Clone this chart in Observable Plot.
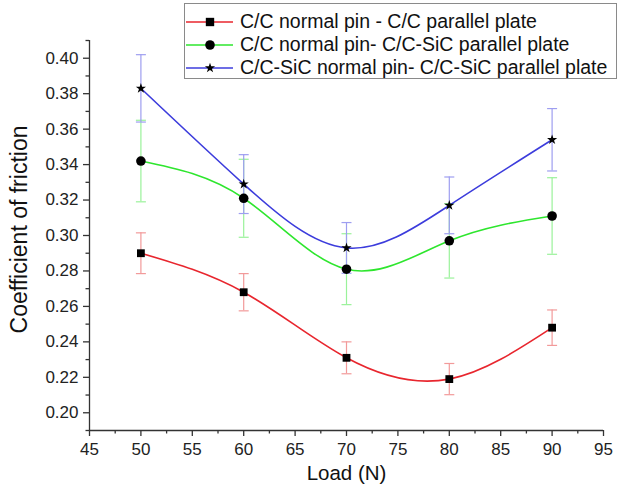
<!DOCTYPE html>
<html>
<head>
<meta charset="utf-8">
<script src="https://cdn.jsdelivr.net/npm/d3@7"></script>
<script src="https://cdn.jsdelivr.net/npm/@observablehq/plot@0.6"></script>
<style>
  html, body { margin: 0; padding: 0; background: #fff; }
  #wrap { position: relative; width: 618px; height: 494px; font-family: "Liberation Sans", Arial, sans-serif; }
  #legend { position: absolute; left: 184px; top: 3px; width: 431px; height: 74px; border: 1px solid #8a8a8a; background: #fff; box-sizing: content-box; }
  .row { position: absolute; left: 0; height: 23px; display: flex; align-items: center; font-size: 19.5px; color: #111; white-space: nowrap; }
  .row svg { margin-right: 5px; }
</style>
</head>
<body>
<div id="wrap"><div id="chart"></div><div id="legend"></div></div>
<script>
const loads = [50, 60, 70, 80, 90];
const seriesNames = [
  "C/C normal pin - C/C parallel plate",
  "C/C normal pin- C/C-SiC parallel plate",
  "C/C-SiC normal pin- C/C-SiC parallel plate"
];
const ccMean = [0.290, 0.268, 0.231, 0.219, 0.248];
const ccErr = [0.0115, 0.0105, 0.009, 0.0088, 0.010];
const ccSicMean = [0.342, 0.321, 0.281, 0.297, 0.311];
const ccSicErr = [0.023, 0.022, 0.020, 0.021, 0.0216];
const sicSicMean = [0.383, 0.329, 0.293, 0.317, 0.354];
const sicSicErr = [0.019, 0.0166, 0.0143, 0.016, 0.0176];
const xMajor = [45, 50, 55, 60, 65, 70, 75, 80, 85, 90, 95];
const xMinor = [47.5, 52.5, 57.5, 62.5, 67.5, 72.5, 77.5, 82.5, 87.5, 92.5];
const yMajor = [0.20, 0.22, 0.24, 0.26, 0.28, 0.30, 0.32, 0.34, 0.36, 0.38, 0.40];
const yMinor = [0.19, 0.21, 0.23, 0.25, 0.27, 0.29, 0.31, 0.33, 0.35, 0.37, 0.39, 0.41];

const lineColors = ["#e8262e", "#2ee62e", "#3c3cdc"];
const errColors = ["#f29a9a", "#9af29a", "#9e9ef0"];
const symbols = ["square", "circle", "star"];
const symbolR = [4.4, 4.8, 3.2];

const means = [ccMean, ccSicMean, sicSicMean];
const errs = [ccErr, ccSicErr, sicSicErr];
const data = [];
means.forEach((m, s) => loads.forEach((x, i) => data.push({
  s, name: seriesNames[s], x, y: m[i], lo: m[i] - errs[s][i], hi: m[i] + errs[s][i]
})));

const capSymbol = { draw(ctx) { ctx.moveTo(-5, 0); ctx.lineTo(5, 0); } };

const marks = [];
for (let s = 0; s < 3; s++) {
  const d = data.filter(r => r.s === s);
  marks.push(
    Plot.ruleX(d, {x: "x", y1: "lo", y2: "hi", stroke: errColors[s], strokeWidth: 1.2}),
    Plot.dot(d, {x: "x", y: "lo", symbol: capSymbol, stroke: errColors[s], strokeWidth: 1.2, fill: "none"}),
    Plot.dot(d, {x: "x", y: "hi", symbol: capSymbol, stroke: errColors[s], strokeWidth: 1.2, fill: "none"})
  );
}
for (let s = 0; s < 3; s++) {
  const d = data.filter(r => r.s === s);
  marks.push(
    Plot.line(d, {x: "x", y: "y", stroke: lineColors[s], strokeWidth: 1.6, curve: "natural"}),
    Plot.dot(d, {x: "x", y: "y", symbol: symbols[s], r: symbolR[s], fill: "#000", stroke: "none"})
  );
}

const chart = Plot.plot({
  width: 618,
  height: 494,
  marginLeft: 89,
  marginRight: 15,
  marginTop: 40,
  marginBottom: 64,
  style: {fontFamily: "'Liberation Sans', Arial, sans-serif", color: "#222", background: "#fff"},
  x: {domain: [45, 95]},
  y: {domain: [0.19, 0.41]},
  marks: [
    ...marks,
    Plot.ruleX([45], {stroke: "#333", strokeWidth: 1.3}),
    Plot.ruleY([0.19], {stroke: "#333", strokeWidth: 1.3}),
    Plot.axisX({ticks: xMajor, tickSize: 6, tickPadding: 6, tickFormat: d => d, fontSize: 17, label: null, stroke: "#333", strokeWidth: 1.3}),
    Plot.axisX({ticks: xMinor, tickSize: 3.5, text: null, label: null, stroke: "#333", strokeWidth: 1.3}),
    Plot.axisY({ticks: yMajor, tickSize: 6, tickPadding: 5, tickFormat: d3.format(".2f"), fontSize: 17, label: null, stroke: "#333", strokeWidth: 1.3}),
    Plot.axisY({ticks: yMinor, tickSize: 3.5, text: null, label: null, stroke: "#333", strokeWidth: 1.3}),
    Plot.text(["Coefficient of friction"], {frameAnchor: "left", textAnchor: "middle", lineAnchor: "middle", dx: -70, dy: -6, rotate: -90, fontSize: 23, fill: "#111", style: {letterSpacing: "1.3px"}}),
    Plot.text(["Load (N)"], {frameAnchor: "bottom", lineAnchor: "middle", dy: 43, fontSize: 20.5, fill: "#111"})
  ]
});
document.getElementById("chart").appendChild(chart);

// legend
const legend = document.getElementById("legend");
const symPath = [d3.symbolSquare, d3.symbolCircle, d3.symbolStar];
const symSize = [70, 72, 32];
seriesNames.forEach((name, s) => {
  const row = document.createElement("div");
  row.className = "row";
  row.style.top = (6 + s * 23) + "px";
  const ns = "http://www.w3.org/2000/svg";
  const svg = document.createElementNS(ns, "svg");
  svg.setAttribute("width", 50); svg.setAttribute("height", 20);
  const ln = document.createElementNS(ns, "line");
  ln.setAttribute("x1", 1); ln.setAttribute("x2", 48); ln.setAttribute("y1", 10); ln.setAttribute("y2", 10);
  ln.setAttribute("stroke", lineColors[s]); ln.setAttribute("stroke-width", 1.6);
  svg.appendChild(ln);
  const p = document.createElementNS(ns, "path");
  p.setAttribute("d", d3.symbol(symPath[s], symSize[s])());
  p.setAttribute("transform", "translate(25,10)");
  p.setAttribute("fill", "#000");
  svg.appendChild(p);
  row.appendChild(svg);
  const t = document.createElement("span");
  t.textContent = name;
  row.appendChild(t);
  legend.appendChild(row);
});
</script>
</body>
</html>
